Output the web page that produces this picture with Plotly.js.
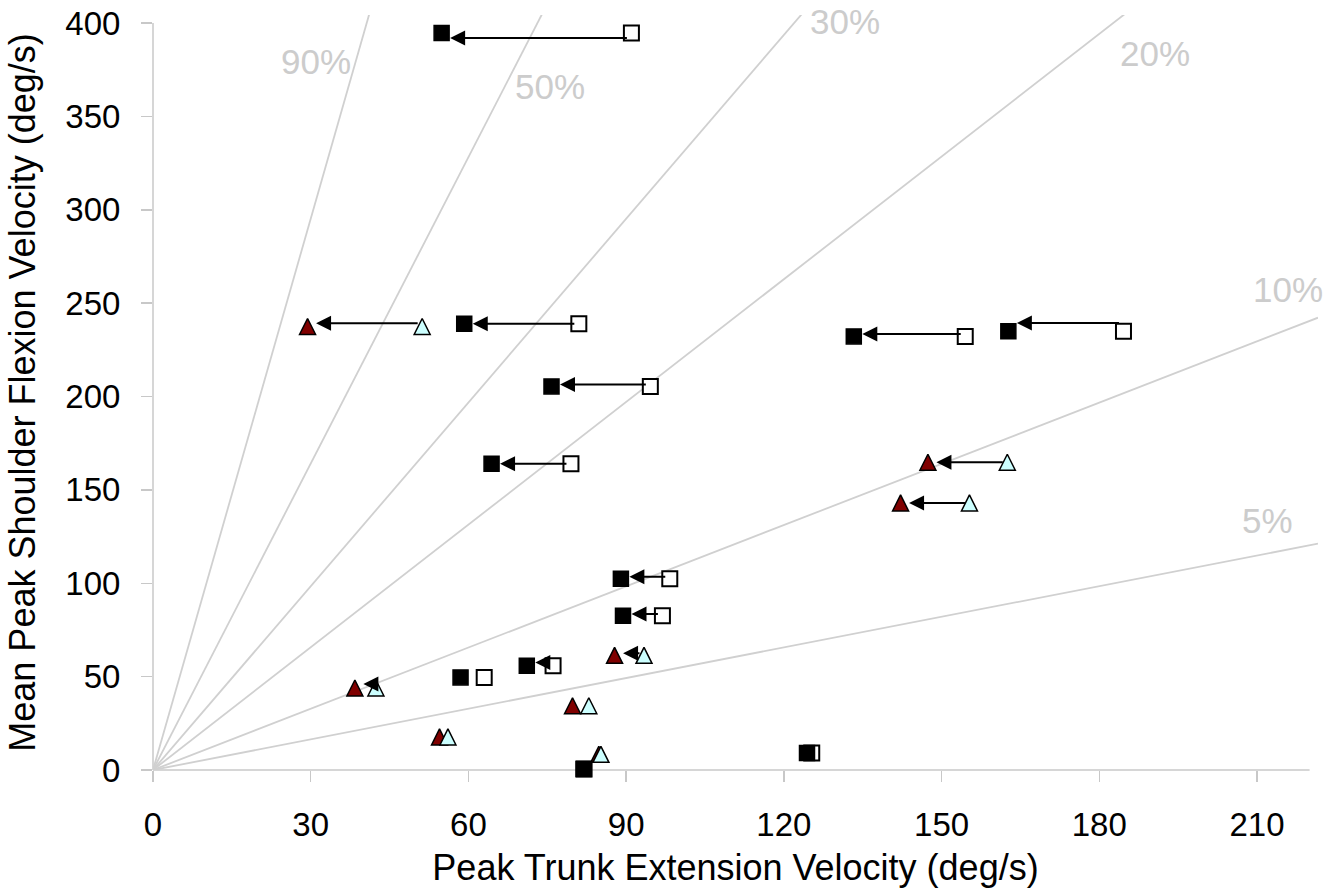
<!DOCTYPE html>
<html>
<head>
<meta charset="utf-8">
<script src="https://cdn.plot.ly/plotly-3.0.1.min.js"></script>
<style>html,body{margin:0;padding:0;background:#fff;}#chart{width:1337px;height:896px;}</style>
</head>
<body>
<div id="chart"></div>
<script>
// ---- data ----
// Squares: open = before, filled = after (same shoulder velocity)
const sqBeforeX = [91.0, 81.0, 94.6, 79.5, 154.5, 184.6, 98.3, 96.9, 63.0, 76.1, 125.3, 82.0];
const sqAfterX  = [54.9, 59.2, 75.8, 64.4, 133.3, 162.7, 89.0, 89.4, 58.5, 71.1, 124.4, 81.9];
const sqY       = [394.6, 239.0, 205.4, 164.0, 232.2, 234.9, 102.4, 82.6, 49.6, 55.8, 9.1, 0.5];
const sqArrowY  = [392.0, 239.0, 206.5, 164.0, 233.5, 239.4, 103.5, 83.5, 49.6, 57.5, 9.1, 0.5];
const sqArrow   = [true, true, true, true, true, true, true, true, false, true, false, false];

// Triangles: light cyan = before, dark red = after
const triBeforeX = [51.2, 162.5, 155.3, 93.4, 42.4, 82.9, 56.1, 85.2];
const triAfterX  = [29.4, 147.4, 142.2, 87.8, 38.4, 79.8, 54.5, 84.8];
const triY       = [237.5, 164.8, 143.0, 61.4, 43.9, 34.4, 17.7, 8.4];
const triArrowY  = [239.3, 164.8, 143.0, 62.5, 46.0, 34.4, 17.7, 8.4];
const triArrow   = [true, true, true, true, true, false, false, false];

// Reference rays through the origin
const rayLabels = ['90%', '50%', '30%', '20%', '10%', '5%'];
const raySlopes = [9.84, 5.47, 3.28, 2.19, 1.093, 0.547];

// Axis ticks
const xTicks = [0, 30, 60, 90, 120, 150, 180, 210];
const yTicks = [0, 50, 100, 150, 200, 250, 300, 350, 400];

// ---- layout configuration ----
const X_MAX = 221.6, Y_MAX = 404.3;
const X_AXIS_END = 220, Y_AXIS_END = 400;
const rayLabelPos = [[31.0, 379.4], [75.6, 365.9], [131.7, 400.6], [190.5, 383.5], [215.9, 257.5], [212.0, 133.4]];

const FONT = 'Liberation Sans, Arial, sans-serif';
const GREY = '#cccccc';

const traces = [];
raySlopes.forEach((s, i) => {
  traces.push({
    type: 'scatter', mode: 'lines', x: [0, X_MAX], y: [0, s * X_MAX],
    line: {color: '#d0d0d0', width: 1.8}, hoverinfo: 'skip', name: rayLabels[i]
  });
});

const triMarker = (fill) => ({
  symbol: 'arrow-down', angle: 180, standoff: 8, size: 16,
  color: fill, line: {color: '#000', width: 1.5}
});

traces.push({type: 'scatter', mode: 'markers', x: triAfterX, y: triY, marker: triMarker('#800000'), cliponaxis: false, name: 'tri after'});
traces.push({type: 'scatter', mode: 'markers', x: triBeforeX, y: triY, marker: triMarker('#ccffff'), cliponaxis: false, name: 'tri before'});
traces.push({type: 'scatter', mode: 'markers', x: sqBeforeX, y: sqY, cliponaxis: false, name: 'sq before',
  marker: {symbol: 'square', size: 15, color: '#ffffff', line: {color: '#000', width: 2}}});
traces.push({type: 'scatter', mode: 'markers', x: sqAfterX, y: sqY, cliponaxis: false, name: 'sq after',
  marker: {symbol: 'square', size: 15, color: '#000000', line: {color: '#000', width: 1.5}}});

const annotations = [];
function addArrow(x0, x1, y) {
  annotations.push({
    x: x1, y: y, ax: x0, ay: y, xref: 'x', yref: 'y', axref: 'x', ayref: 'y',
    text: '', showarrow: true, arrowhead: 2, arrowsize: 1.5, arrowwidth: 2,
    arrowcolor: '#000', standoff: 8.5, startstandoff: 3
  });
}
sqBeforeX.forEach((bx, i) => { if (sqArrow[i]) addArrow(bx, sqAfterX[i], sqArrowY[i]); });
triBeforeX.forEach((bx, i) => { if (triArrow[i]) addArrow(bx, triAfterX[i], triArrowY[i]); });

rayLabels.forEach((t, i) => {
  annotations.push({
    x: rayLabelPos[i][0], y: rayLabelPos[i][1], xref: 'x', yref: 'y',
    text: t, showarrow: false, xanchor: 'center', yanchor: 'middle',
    font: {family: FONT, size: 35, color: GREY}
  });
});

const layout = {
  width: 1337, height: 896,
  margin: {l: 153, r: 19, t: 15, b: 126, pad: 0},
  paper_bgcolor: '#ffffff', plot_bgcolor: '#ffffff',
  showlegend: false, hovermode: false,
  font: {family: FONT, color: '#000'},
  xaxis: {
    range: [0, X_MAX], tickvals: xTicks, ticktext: xTicks.map(String),
    showgrid: false, zeroline: false, showline: false,
    ticks: 'outside', ticklen: 11, tickwidth: 1.5, tickcolor: '#c8c8c8',
    ticklabelstandoff: 14,
    tickfont: {family: FONT, size: 33, color: '#000'},
    title: {text: 'Peak Trunk Extension Velocity (deg/s)', font: {family: FONT, size: 36, color: '#000'}, standoff: 13}
  },
  yaxis: {
    range: [0, Y_MAX], tickvals: yTicks, ticktext: yTicks.map(String),
    showgrid: false, zeroline: false, showline: false,
    ticks: 'outside', ticklen: 11, tickwidth: 1.5, tickcolor: '#c8c8c8',
    ticklabelstandoff: 14,
    tickfont: {family: FONT, size: 33, color: '#000'},
    title: {text: 'Mean Peak Shoulder Flexion Velocity (deg/s)', font: {family: FONT, size: 36, color: '#000'}, standoff: 18}
  },
  shapes: [
    {type: 'line', xref: 'paper', yref: 'paper', x0: 0, x1: X_AXIS_END / X_MAX, y0: 0, y1: 0, line: {color: '#c8c8c8', width: 1.5}, layer: 'below'},
    {type: 'line', xref: 'paper', yref: 'paper', x0: 0, x1: 0, y0: 0, y1: Y_AXIS_END / Y_MAX, line: {color: '#c8c8c8', width: 1.5}, layer: 'below'}
  ],
  annotations: annotations
};

Plotly.newPlot('chart', traces, layout, {staticPlot: true, displayModeBar: false});
</script>
</body>
</html>
